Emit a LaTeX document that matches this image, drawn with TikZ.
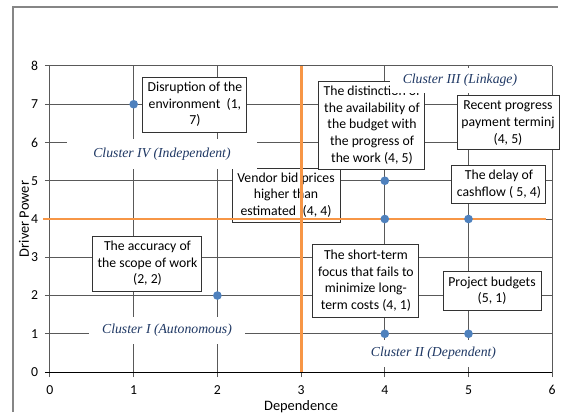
\documentclass[tikz,border=0pt]{standalone}
\usepackage{fontspec}
\setmainfont{Carlito}
\newfontfamily\clusterfont{Liberation Serif}
\definecolor{orangeline}{RGB}{247,150,70}
\definecolor{bluedot}{RGB}{79,129,189}
\definecolor{clustertext}{RGB}{31,56,100}
\definecolor{framegray}{RGB}{134,134,134}
\definecolor{gridgray}{RGB}{89,89,89}

\begin{document}
\begin{tikzpicture}[x=62.775pt, y=28.69pt,
	box/.style={draw=black!80, fill=white, align=center, inner sep=1pt, line width=0.75pt, font=\fontsize{10.3}{12.5}\selectfont},
	cluster/.style={fill=white, inner sep=0pt, text=clustertext, font=\clusterfont\itshape\fontsize{10.3}{12.5}\selectfont},
	dot/.style={circle, fill=bluedot, inner sep=0pt, minimum size=6.5pt},
	gridline/.style={gridgray, line width=0.75pt}]
	\useasboundingbox (-0.597,-1.046) rectangle (6.117,9.725);
	% chart frame
	\draw[framegray, line width=1.1pt] (-0.442,-1.046) -- (-0.442,9.542) -- (6.069,9.542);
	% grid and axes
	\foreach \i in {1,...,8}
		\draw[gridline] (-0.06,\i) -- (6,\i);
	\foreach \i in {0,...,6}
		\draw[gridline] (\i,-0.13) -- (\i,8);
	\draw[black, line width=0.75pt] (-0.06,0) -- (6,0);
	% factors
	\node[box, minimum width=78pt, minimum height=41.25pt] (disrupt) at (1.732,6.993) {Disruption of the\\environment~~(1,\\7)};
	\node[box, minimum width=81pt, minimum height=40.5pt] (vendor) at (2.820,4.627) {Vendor bid prices\\higher than\\estimated .(4, 4)};
	\node[box, minimum width=79.5pt, minimum height=66pt] (distinct) at (3.847,6.457) {The distinction of\\the availability of\\the budget with\\the progress of\\the work (4, 5)};
	\node[box, minimum width=76.5pt, minimum height=40.5pt] (recent) at (5.472,6.510) {Recent progress\\payment terminj\\(4, 5)};
	\node[box, minimum width=70.5pt, minimum height=28.5pt] (delay) at (5.364,4.915) {The delay of\\cashflow ( 5, 4)};
	\node[box, minimum width=81.75pt, minimum height=41.25pt] (accuracy) at (1.165,2.837) {The accuracy of\\the scope of work\\(2, 2)};
	\node[box, minimum width=79.5pt, minimum height=54.75pt] (shortterm) at (3.775,2.392) {The short-term\\focus that fails to\\minimize long-\\term costs (4, 1)};
	\node[box, minimum width=73.5pt, minimum height=29.25pt] (budgets) at (5.281,2.131) {Project budgets\\(5, 1)};
	% cluster names
	\node[cluster, minimum width=117pt, minimum height=20.25pt] (clusterI) at (1.398,1.085) {Cluster I (Autonomous)};
	\node[cluster, minimum width=110.25pt, minimum height=20.25pt] (clusterII) at (4.582,0.484) {Cluster II (Dependent)};
	\node[cluster, minimum width=105pt, minimum height=19pt] (clusterIII) at (4.898,7.62) {Cluster III (Linkage)};
	\node[cluster, minimum width=142.5pt, minimum height=22.5pt] (clusterIV) at (1.338,5.699) {Cluster IV (Independent)};
	% dividing lines
	\draw[orangeline, line width=2.2pt] (3,0) -- (3,8);
	\draw[orangeline, line width=2.2pt] (-0.08,4) -- (5.92,4);
	% points
	\foreach \p/\q in {1/7, 2/2, 4/5, 4/4, 5/4, 4/1, 5/1}
		\node[dot] (pt\p\q) at (\p,\q) {};
	% tick labels
	\foreach \i in {0,...,8}
		\node[anchor=east, inner sep=0pt, font=\fontsize{10.3}{12}\selectfont] (ylab\i) at (-0.14,\i) {\i};
	\foreach \i in {0,...,6}
		\node[inner sep=0pt, font=\fontsize{10.3}{12}\selectfont] (xlab\i) at (\i,-0.47) {\i};
	\node[inner sep=0pt, font=\fontsize{10.8}{12}\selectfont] (xtitle) at (3,-0.9) {Dependence};
	\node[inner sep=0pt, rotate=90, font=\fontsize{10.8}{12}\selectfont] (ytitle) at (-0.31,4) {Driver Power};
\end{tikzpicture}
\end{document}
